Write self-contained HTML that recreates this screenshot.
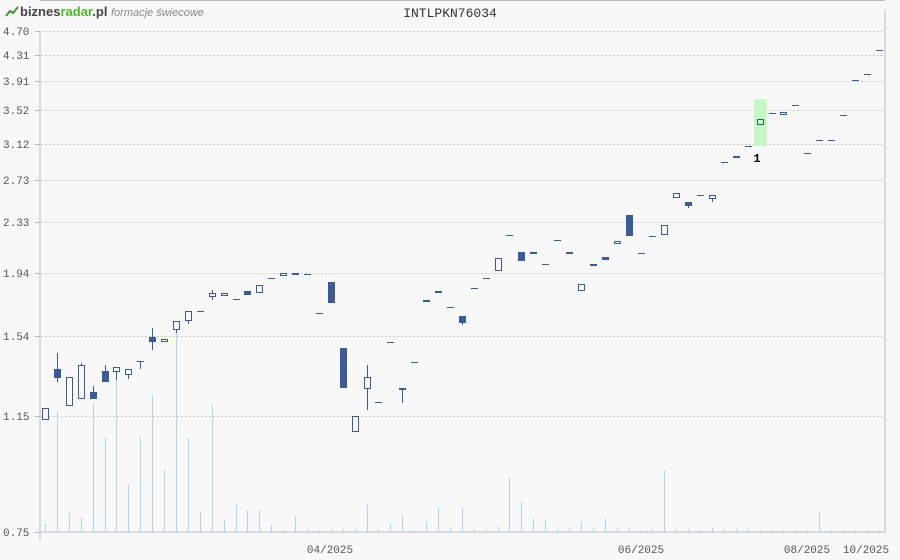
<!DOCTYPE html>
<html><head><meta charset="utf-8"><style>
html,body{margin:0;padding:0;background:#f8f8f8;width:900px;height:560px;overflow:hidden}
svg{display:block}
text{font-family:"Liberation Mono","DejaVu Sans Mono",monospace;font-size:11px;fill:#555}
</style></head><body>
<svg id="c" width="900" height="560" xmlns="http://www.w3.org/2000/svg">
<rect width="900" height="560" fill="#f8f8f8"/>
<line x1="40" y1="0.5" x2="885" y2="0.5" stroke="#bbb"/>
<g id="logo">
<polyline points="6,16 10,11 13,13 18,7" fill="none" stroke="#3a9a2a" stroke-width="2"/>
<text x="20" y="16" style="font-family:'Liberation Sans',sans-serif;font-size:13px;font-weight:bold;fill:#444">biznes<tspan style="fill:#4cb82c">radar</tspan>.pl</text>
<text x="111" y="16" style="font-family:'Liberation Sans',sans-serif;font-size:11px;font-style:italic;fill:#888">formacje świecowe</text>
</g>
<text x="450" y="17" text-anchor="middle" style="font-size:13px;fill:#333">INTLPKN76034</text>
<g id="grid"></g>
<g id="vol"></g>
<rect x="754" y="99" width="13" height="47" fill="#c6f7c6"/>
<g id="cdl"></g>
<text x="757" y="162" text-anchor="middle" style="font-size:12px;font-weight:bold;fill:#000">1</text>
<line x1="40" y1="31" x2="40" y2="540" stroke="#bbb"/>
<line x1="885" y1="10" x2="885" y2="532" stroke="#bbb"/>
<line x1="40" y1="532" x2="885" y2="532" stroke="#bbb"/>
<text x="330" y="553" text-anchor="middle">04/2025</text>
<text x="641" y="553" text-anchor="middle">06/2025</text>
<text x="807" y="553" text-anchor="middle">08/2025</text>
<text x="866" y="553" text-anchor="middle">10/2025</text>
</svg>
<script>
var NS="http://www.w3.org/2000/svg";
function el(p,t,a){var e=document.createElementNS(NS,t);for(var k in a)e.setAttribute(k,a[k]);p.appendChild(e);return e;}
var g=document.getElementById("grid");
[[4.70,31],[4.31,55],[3.91,81],[3.52,110],[3.12,144],[2.73,180],[2.33,222],[1.94,273],[1.54,336],[1.15,416],[0.75,532]].forEach(function(r){
 if(r[1]<532)el(g,"line",{x1:41,y1:r[1]+.5,x2:885,y2:r[1]+.5,stroke:"#ccc","stroke-dasharray":"2,2"});
 el(g,"line",{x1:35,y1:r[1]+.5,x2:40,y2:r[1]+.5,stroke:"#bbb"});
 var t=el(g,"text",{x:3,y:r[1]+4});t.textContent=r[0].toFixed(2);
});
var vt=[524,411,513,517,403,437,380,484,437,395,470,330,438,512,405,520,505,510,510,525,530,516,529,530,529,529,529,505,529,523,515,530,522,507,528,507,529,529,527,477,502,518,520,529,528,522,528,518,527,528,530,529,470,529,529,530,527,529,529,529,530,530,530,530,530,512,530,530,530,530,530];
var v=document.getElementById("vol");
vt.forEach(function(y,i){var x=Math.round(45+i*11.91)+.5;el(v,"line",{x1:x,y1:y,x2:x,y2:532,stroke:"#a8d4ff"});});
// [type,top,bottom,wickTop,wickBot] type: h hollow, f filled, d dash
var C=[["h",408,420],["f",369,378,353,382],["h",377,406],["h",365,399,363,399],["f",392,399,386,399],["f",371,382,365,382],["h",367,372,367,380],["h",369,375,369,379],["d",361,361,361,369],["f",337,342,328,350],["h",339,342],["h",321,330,321,333],["h",311,321,311,324],["d",311],["h",293,297,290,300],["h",293,296],["d",299],["f",291,295],["h",285,293],["d",278],["h",273,276],["f",273,275],["d",274],["d",313],["f",282,303],["f",348,388],["h",416,432],["h",377,389,365,410],["d",402],["d",342],["h",388,390,388,403],["d",362],["h",300,302],["f",291,293],["d",307],["f",316,323,316,325],["d",288],["d",278],["h",258,271],["d",235],["f",252,261],["f",252,253],["d",264],["d",240],["f",252,254],["h",284,291],["f",264,266],["f",257,260],["h",241,244],["f",215,236],["d",253],["d",236],["h",225,235],["h",193,198],["f",202,206,202,208],["d",195],["h",195,199,195,202],["d",162],["h",156,158],["d",146],["h",119,125],["d",113],["h",112,115],["d",105],["d",153],["d",140],["d",140],["d",115],["d",80],["d",74],["d",50]];
var c=document.getElementById("cdl"),col="#3a5a9a";
C.forEach(function(k,i){var x=Math.round(45+i*11.91);
 if(k[3]!==undefined)el(c,"line",{x1:x+.5,y1:k[3],x2:x+.5,y2:k[4],stroke:col});
 if(k[0]=="d")el(c,"line",{x1:x-3,y1:k[1]+.5,x2:x+4,y2:k[1]+.5,stroke:col});
 else if(k[0]=="f")el(c,"rect",{x:x-3,y:k[1],width:7,height:Math.max(2,k[2]-k[1]),fill:col});
 else el(c,"rect",{x:x-2.5,y:k[1]+.5,width:6,height:Math.max(1,k[2]-k[1]-1),fill:i==60?"none":"#f8f8f8",stroke:i==60?"#2a6a4a":col});
});
</script>
</body></html>
